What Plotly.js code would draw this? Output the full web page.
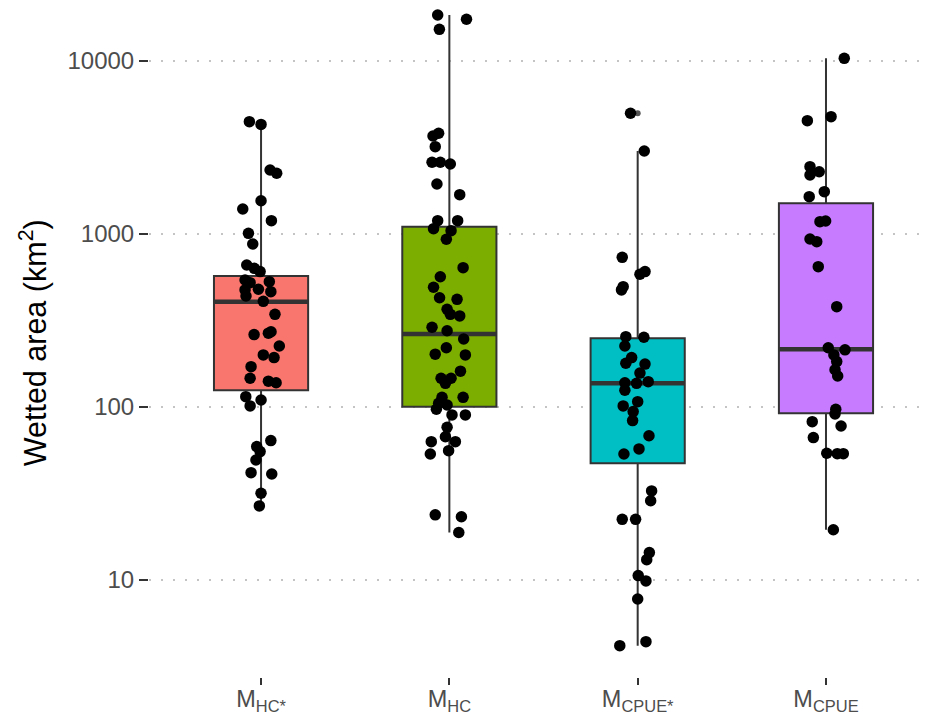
<!DOCTYPE html>
<html>
<head>
<meta charset="utf-8">
<script src="https://cdn.plot.ly/plotly-3.0.1.min.js"></script>
<style>html,body{margin:0;padding:0;background:#fff;}</style>
</head>
<body>
<div id="chart" style="width:929px;height:719px;"></div>
<script>
// ---- categories / tick labels ----
const categories = ['M<sub>HC*</sub>', 'M<sub>HC</sub>', 'M<sub>CPUE*</sub>', 'M<sub>CPUE</sub>'];
const yTickVals = [10, 100, 1000, 10000];
const yTickText = ['10', '100', '1000', '10000'];
const yTitle = 'Wetted area (km<sup>2</sup>)';

// ---- box statistics ----
const boxQ1 = [125, 100.4, 47.3, 91.9];
const boxMedian = [406, 264, 137, 215.6];
const boxQ3 = [572, 1101, 249.6, 1503];
const boxLower = [26.8, 18.8, 4.17, 19.5];
const boxUpper = [4306, 18450, 3018, 10360];

// ---- outliers drawn by the boxplot ----
const outlierCategory = [2];
const outlierValues = [4985];

// ---- jittered observations ----
const hcStarValues = [4460, 4300, 2344, 2244, 1557, 1395, 1194, 1009, 875, 662, 633, 606, 542, 523, 530, 475, 479, 464, 438, 408, 343, 262, 267, 272, 225, 200, 193, 171, 146.5, 141, 138, 114.7, 101.4, 109.7, 63.9, 59, 55.2, 49.4, 41.7, 41, 31.7, 26.8];
const hcStarJitter = [-0.062, 0, 0.048, 0.083, 0, -0.097, 0.055, -0.067, -0.044, -0.076, -0.036, -0.005, -0.085, -0.058, 0.044, -0.085, -0.014, 0.052, -0.080, 0.012, 0.074, -0.037, 0.039, 0.053, 0.097, 0.012, 0.069, -0.053, -0.058, 0.039, 0.080, -0.081, -0.058, 0, 0.052, -0.023, -0.005, -0.027, -0.053, 0.057, 0, -0.009];

const hcValues = [18450, 17420, 15240, 3686, 3820, 3196, 2597, 2597, 2540, 1945, 1687, 1194, 1194, 1073, 1045, 932, 639, 566, 492, 428, 419, 367, 343, 336, 289, 276, 247, 220, 202, 200, 161, 146.5, 146.5, 137, 113.7, 113.7, 105, 102.7, 97, 90, 90, 76.3, 67.3, 63, 63, 53.5, 55.9, 23.8, 23.2, 18.8];
const hcJitter = [-0.062, 0.091, -0.053, -0.087, -0.057, -0.075, -0.092, -0.048, 0.005, -0.066, 0.055, -0.062, 0.044, -0.084, 0.009, -0.016, 0.073, -0.048, -0.084, -0.052, 0.041, -0.012, 0.005, 0.055, -0.092, -0.012, 0.076, -0.016, -0.075, 0.085, 0.059, -0.044, 0.009, -0.021, 0.073, -0.039, -0.057, -0.012, -0.069, 0.014, 0.085, -0.012, -0.021, 0.032, -0.096, -0.101, -0.004, -0.075, 0.064, 0.050];

const cpueStarValues = [4985, 3018, 733, 585, 606, 496, 475, 255, 253, 225, 193, 179, 177, 157, 138, 137, 140, 125, 101.4, 107.3, 94, 83.4, 68.2, 57.2, 53.5, 32.7, 28.7, 22.4, 22.4, 14.4, 13.1, 10.6, 9.87, 7.76, 4.40, 4.17];
const cpueStarJitter = [-0.038, 0.035, -0.082, 0.012, 0.039, -0.077, -0.086, -0.063, 0.033, -0.068, -0.032, -0.063, 0.039, 0.012, -0.068, -0.006, 0.056, -0.068, -0.077, 0, -0.024, -0.027, 0.060, 0.007, -0.073, 0.074, 0.069, -0.082, -0.011, 0.062, 0.048, 0.003, 0.044, 0, 0.044, -0.095];

const cpueValues = [10360, 4518, 4765, 2449, 2291, 2193, 1756, 1643, 1178, 1189, 935, 903, 647, 380, 220, 214, 200, 183, 164, 151, 97, 91.1, 82.2, 77.6, 66.5, 54, 53.7, 53.7, 19.5];
const cpueJitter = [0.097, -0.099, 0.027, -0.085, -0.036, -0.085, -0.009, -0.089, -0.032, -0.002, -0.085, -0.049, -0.041, 0.057, 0.012, 0.101, 0.042, 0.057, 0.048, 0.062, 0.052, 0.048, -0.073, 0.080, -0.067, 0.004, 0.060, 0.092, 0.039];

// ---- styles ----
const fillColors = ['#F8766D', '#7CAE00', '#00BFC4', '#C77CFF'];
const lineDark = '#333333';
const boxWidth = 0.5;

const groups = [
  {v: hcStarValues, j: hcStarJitter},
  {v: hcValues, j: hcJitter},
  {v: cpueStarValues, j: cpueStarJitter},
  {v: cpueValues, j: cpueJitter}
];

const traces = [];
categories.forEach((c, i) => {
  traces.push({
    type: 'box',
    x: [i],
    q1: [boxQ1[i]], median: [boxMedian[i]], q3: [boxQ3[i]],
    lowerfence: [boxLower[i]], upperfence: [boxUpper[i]],
    width: boxWidth,
    whiskerwidth: 0,
    boxpoints: false,
    fillcolor: fillColors[i],
    line: {color: lineDark, width: 2},
    hoverinfo: 'skip',
    showlegend: false
  });
});
// thick median bars
categories.forEach((c, i) => {
  traces.push({
    type: 'scatter', mode: 'lines',
    x: [i - boxWidth / 2, i + boxWidth / 2],
    y: [boxMedian[i], boxMedian[i]],
    line: {color: lineDark, width: 4.5},
    hoverinfo: 'skip', showlegend: false
  });
});
// boxplot outliers
traces.push({
  type: 'scatter', mode: 'markers',
  x: outlierCategory, y: outlierValues,
  marker: {color: '#555555', size: 6},
  hoverinfo: 'skip', showlegend: false
});
// jittered points
groups.forEach((g, i) => {
  traces.push({
    type: 'scatter', mode: 'markers',
    x: g.j.map(d => i + d),
    y: g.v,
    marker: {color: '#000000', size: 11.5},
    hoverinfo: 'skip', showlegend: false
  });
});

const layout = {
  width: 929, height: 719,
  margin: {l: 149, r: 0, t: 0, b: 42},
  paper_bgcolor: '#ffffff', plot_bgcolor: '#ffffff',
  font: {family: 'Liberation Sans, Arial, sans-serif'},
  showlegend: false,
  boxmode: 'overlay',
  xaxis: {
    range: [-0.595, 3.547],
    tickmode: 'array',
    tickvals: categories.map((c, i) => i),
    ticktext: categories,
    ticks: 'outside', ticklen: 7, tickwidth: 2.2, tickcolor: lineDark,
    ticklabelstandoff: -6,
    tickfont: {size: 23.5, color: '#4D4D4D'},
    showgrid: false, zeroline: false, showline: false,
    automargin: false
  },
  yaxis: {
    type: 'log',
    range: [0.439, 4.3526],
    tickmode: 'array',
    tickvals: yTickVals,
    ticktext: yTickText,
    ticks: 'outside', ticklen: 9, tickwidth: 2.2, tickcolor: lineDark,
    tickfont: {size: 24, color: '#4D4D4D'},
    showgrid: true, gridcolor: '#c4c4c4', gridwidth: 2.2, griddash: '2px,10px',
    zeroline: false, showline: false,
    automargin: false
  },
  annotations: [{
    text: yTitle,
    xref: 'paper', yref: 'paper',
    x: -0.1487, y: 0.493,
    xanchor: 'center', yanchor: 'middle',
    textangle: -90,
    showarrow: false,
    font: {size: 30.5, color: '#000000'}
  }]
};

Plotly.newPlot('chart', traces, layout, {staticPlot: true, displayModeBar: false});
</script>
</body>
</html>
